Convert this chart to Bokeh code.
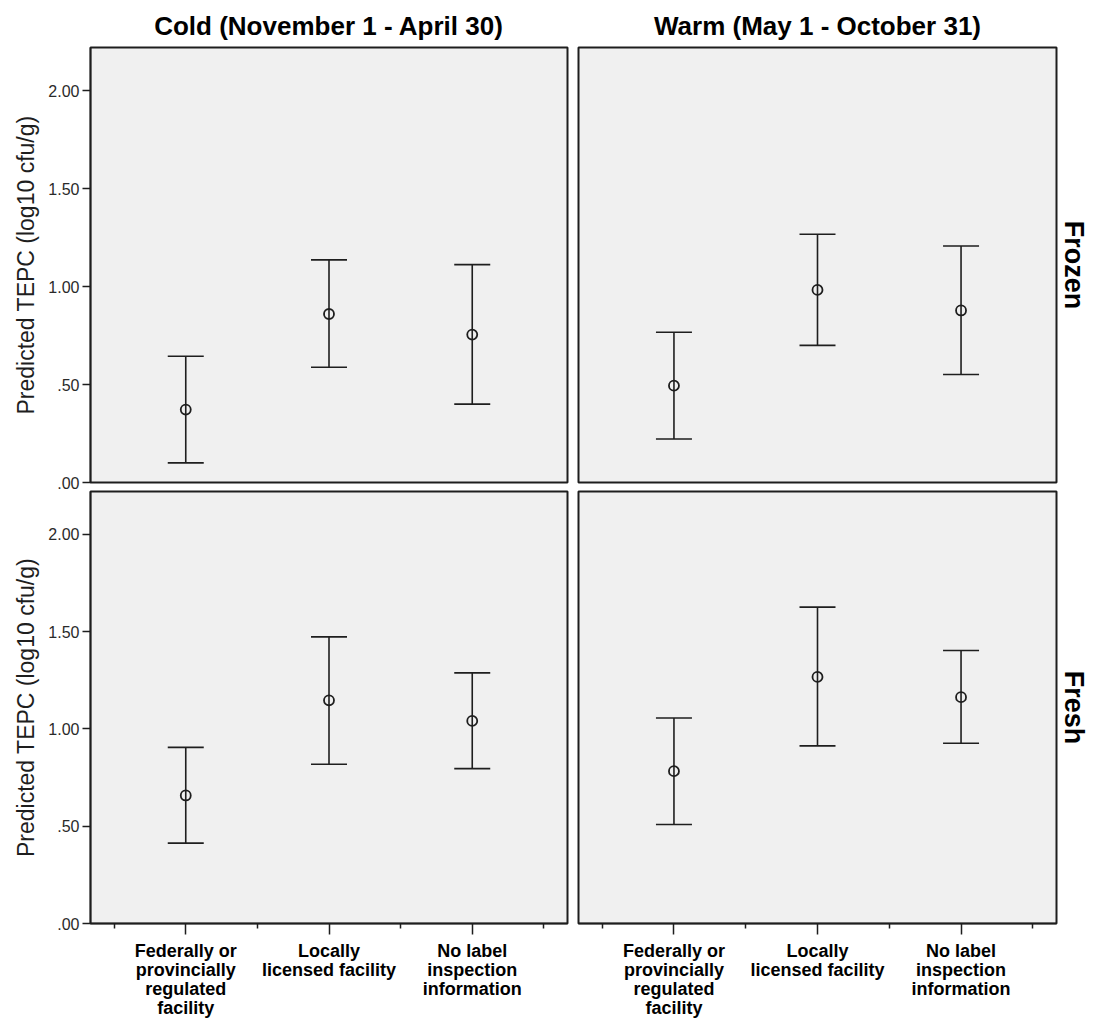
from bokeh.plotting import figure
from bokeh.models import Range1d, FixedTicker, Title, ColumnDataSource, Whisker, TeeHead
from bokeh.layouts import column, row
from bokeh.embed import file_html
from bokeh.resources import INLINE

# ---------------- data ----------------
categories = [
    "Federally or\nprovincially\nregulated\nfacility",
    "Locally\nlicensed facility",
    "No label\ninspection\ninformation",
]
seasons = ["Cold (November 1 - April 30)", "Warm (May 1 - October 31)"]
products = ["Frozen", "Fresh"]
y_ticks = [0.0, 0.5, 1.0, 1.5, 2.0]
y_tick_labels = [".00", ".50", "1.00", "1.50", "2.00"]
y_title = "Predicted TEPC (log10 cfu/g)"

cold_frozen_mean = [0.372, 0.860, 0.755]
cold_frozen_lower = [0.100, 0.588, 0.400]
cold_frozen_upper = [0.644, 1.136, 1.112]

warm_frozen_mean = [0.494, 0.983, 0.878]
warm_frozen_lower = [0.222, 0.700, 0.551]
warm_frozen_upper = [0.767, 1.267, 1.207]

cold_fresh_mean = [0.658, 1.147, 1.041]
cold_fresh_lower = [0.413, 0.818, 0.796]
cold_fresh_upper = [0.905, 1.473, 1.288]

warm_fresh_mean = [0.783, 1.267, 1.163]
warm_fresh_lower = [0.509, 0.913, 0.926]
warm_fresh_upper = [1.056, 1.626, 1.403]

panels = [
    [(cold_frozen_mean, cold_frozen_lower, cold_frozen_upper),
     (warm_frozen_mean, warm_frozen_lower, warm_frozen_upper)],
    [(cold_fresh_mean, cold_fresh_lower, cold_fresh_upper),
     (warm_fresh_mean, warm_fresh_lower, warm_fresh_upper)],
]

# ---------------- style ----------------
FONT = "Liberation Sans"
DARK = "#1e1e1e"
BG = "#f0f0f0"

xs = [i + 1 for i in range(len(categories))]
minor_x = [x - 0.5 for x in xs] + [xs[-1] + 0.5]
x_range = Range1d(0.335, len(categories) + 0.665)
y_range = Range1d(0, 2.22)


def make_panel(r, c, mean, lower, upper):
    top = r == 0
    left = c == 0
    p = figure(
        width=572 if left else 520,
        height=490 if top else 530,
        x_range=x_range,
        y_range=y_range,
        output_backend="svg",
        toolbar_location=None,
        title=seasons[c] if top else None,
        x_axis_location=None if top else "below",
        y_axis_location="left" if left else None,
        min_border_left=90 if left else 6,
        min_border_right=5 if left else 35,
        min_border_top=47 if top else 1,
        min_border_bottom=8 if top else 93,
        background_fill_color=BG,
        border_fill_color="white",
        outline_line_color=DARK,
        outline_line_width=2,
    )
    p.xgrid.visible = False
    p.ygrid.visible = False

    if top:
        p.title.text_font = FONT
        p.title.text_font_size = "26px"
        p.title.text_font_style = "bold"
        p.title.text_color = "black"
        p.title.align = "center"
        p.title.standoff = 13

    if c == 1:
        t = Title(text=products[r], align="center", text_font=FONT,
                  text_font_size="27px", text_font_style="bold",
                  text_color="black", standoff=4)
        p.add_layout(t, "right")

    if left:
        ax = p.yaxis[0]
        ax.ticker = FixedTicker(ticks=y_ticks, minor_ticks=[])
        ax.major_label_overrides = dict(zip(y_ticks, y_tick_labels))
        ax.axis_label = y_title
        ax.axis_label_text_font = FONT
        ax.axis_label_text_font_size = "23px"
        ax.axis_label_text_font_style = "normal"
        ax.axis_label_text_color = DARK
        ax.axis_label_standoff = 6
        ax.major_label_text_font = FONT
        ax.major_label_text_font_size = "16px"
        ax.major_label_text_color = "#2a2a2a"
        ax.major_label_standoff = 3
        ax.major_tick_out = 8
        ax.major_tick_in = 0
        ax.major_tick_line_color = DARK
        ax.major_tick_line_width = 1.5
        ax.axis_line_color = DARK
        ax.axis_line_width = 1.5

    if not top:
        ax = p.xaxis[0]
        ax.ticker = FixedTicker(ticks=xs, minor_ticks=minor_x)
        ax.major_label_overrides = dict(zip(xs, categories))
        ax.major_label_text_font = FONT
        ax.major_label_text_font_size = "18px"
        ax.major_label_text_font_style = "bold"
        ax.major_label_text_color = "black"
        ax.major_label_text_align = "center"
        ax.major_label_text_line_height = 0.95
        ax.major_label_standoff = 6
        ax.major_tick_out = 11
        ax.major_tick_in = 0
        ax.minor_tick_out = 5
        ax.minor_tick_in = 0
        ax.major_tick_line_color = DARK
        ax.minor_tick_line_color = DARK
        ax.major_tick_line_width = 1.5
        ax.minor_tick_line_width = 1.5
        ax.axis_line_color = DARK
        ax.axis_line_width = 1.5

    src = ColumnDataSource(dict(x=xs, mean=mean, lower=lower, upper=upper))
    w = Whisker(
        source=src, base="x", upper="upper", lower="lower", dimension="height",
        line_color=DARK, line_width=1.6,
        upper_head=TeeHead(size=36, line_color=DARK, line_width=1.6),
        lower_head=TeeHead(size=36, line_color=DARK, line_width=1.6),
    )
    p.add_layout(w)
    p.scatter(x="x", y="mean", source=src, marker="circle", size=10,
              fill_alpha=0, line_color=DARK, line_width=1.8)
    return p


figs = [[make_panel(r, c, *panels[r][c]) for c in range(2)] for r in range(2)]
layout = column(row(*figs[0]), row(*figs[1]))

open("out.html", "w").write(file_html(layout, INLINE))
